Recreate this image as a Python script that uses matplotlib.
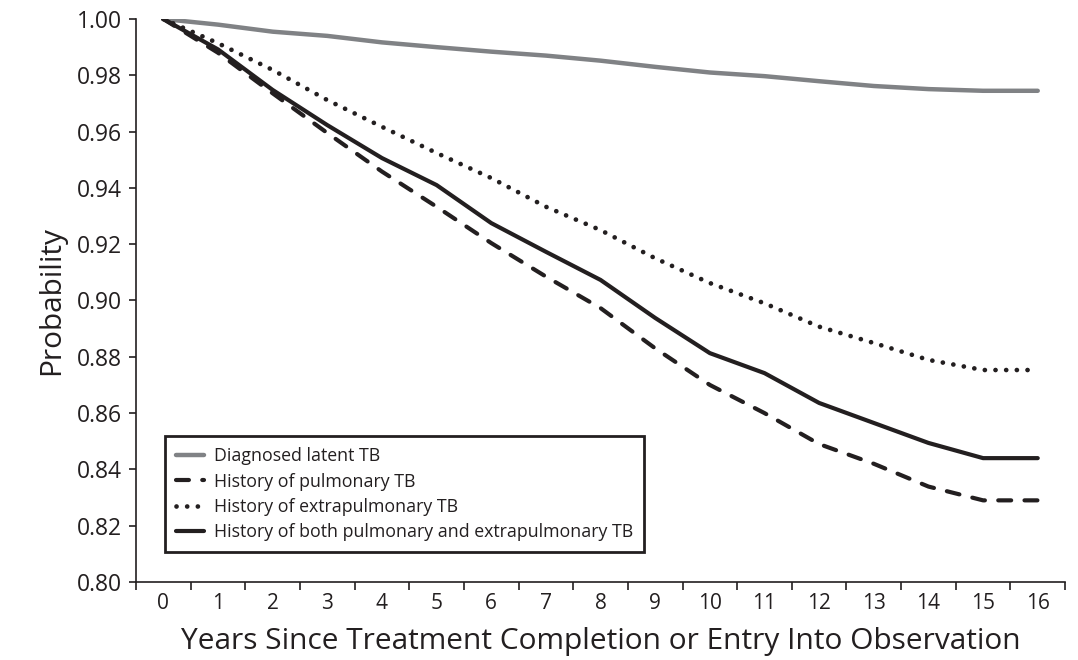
import numpy as np
import matplotlib
matplotlib.use("Agg")
import matplotlib.pyplot as plt
from matplotlib.ticker import FixedLocator, NullFormatter

plt.rcParams['font.family'] = ['Open Sans', 'DejaVu Sans']

# years since treatment completion / entry into observation
years = list(range(17))

# probability of remaining TB-free, read per year
latent = [1.000, 0.998, 0.9955, 0.994, 0.9917, 0.990, 0.9884, 0.987,
          0.9852, 0.983, 0.981, 0.9797, 0.9779, 0.9762, 0.9751, 0.9745, 0.9745]
pulmonary = [1.000, 0.988, 0.9736, 0.9595, 0.9458, 0.9333, 0.9204, 0.9085,
             0.8973, 0.883, 0.870, 0.860, 0.849, 0.842, 0.8339, 0.829, 0.829]
extrapulmonary = [1.000, 0.9914, 0.9819, 0.9712, 0.9617, 0.9524, 0.9435, 0.9333,
                  0.925, 0.915, 0.9062, 0.899, 0.8907, 0.8849, 0.8789, 0.8753, 0.8753]
both = [1.000, 0.9892, 0.9748, 0.9623, 0.9506, 0.941, 0.9275, 0.9173,
        0.9073, 0.8938, 0.8813, 0.8742, 0.8636, 0.8565, 0.8494, 0.844, 0.844]

labels = ["Diagnosed latent TB",
          "History of pulmonary TB",
          "History of extrapulmonary TB",
          "History of both pulmonary and extrapulmonary TB"]

ink = '#231f20'

fig = plt.figure(figsize=(10.78, 6.6), dpi=100)
ax = fig.add_axes([0.1262, 0.1182, 0.8618, 0.853])

ax.plot(years, latent, color='#808285', lw=3.2, solid_capstyle='round', label=labels[0])
ax.plot(years, pulmonary, color=ink, lw=3.0, linestyle=(0, (3.1, 3.2)),
        dash_capstyle='round', label=labels[1])
ax.plot(years, extrapulmonary, color=ink, lw=3.4, linestyle=(0, (0.01, 2.25)),
        dash_capstyle='round', label=labels[2])
ax.plot(years, both, color=ink, lw=3.0, solid_capstyle='round', label=labels[3])

ax.set_xlim(-0.5, 16.5)
ax.set_ylim(0.80, 1.00)

# ticks sit between the years, labels on the years
ax.xaxis.set_major_locator(FixedLocator(np.arange(-0.5, 17, 1)))
ax.xaxis.set_major_formatter(NullFormatter())
ax.xaxis.set_minor_locator(FixedLocator(years))
ax.set_xticklabels([str(y) for y in years], minor=True)
ax.tick_params(axis='x', which='major', direction='out', length=6, width=1.2, color=ink)
ax.tick_params(axis='x', which='minor', length=0, labelsize=15, labelcolor=ink, pad=8)

yt = np.arange(0.80, 1.001, 0.02)
ax.set_yticks(yt)
ax.set_yticklabels(["%.2f" % v for v in yt])
ax.tick_params(axis='y', direction='out', length=5, width=1.2, color=ink,
               labelsize=16.5, labelcolor=ink, pad=5)

for s in ['top', 'right']:
    ax.spines[s].set_visible(False)
for s in ['left', 'bottom']:
    ax.spines[s].set_linewidth(1.2)
    ax.spines[s].set_color(ink)

ax.set_xlabel("Years Since Treatment Completion or Entry Into Observation",
              fontsize=21.5, color=ink, labelpad=9)
ax.set_ylabel("Probability", fontsize=21.5, color=ink, labelpad=8)

leg = ax.legend(loc='lower left', bbox_to_anchor=(0.031, 0.053), borderaxespad=0,
                fontsize=12.8, handlelength=1.6, handletextpad=0.55, labelspacing=0.42,
                fancybox=False, framealpha=1, edgecolor=ink, borderpad=0.6)
leg.get_frame().set_linewidth(2)
for t in leg.get_texts():
    t.set_color(ink)

fig.savefig("out.png", dpi=100)
